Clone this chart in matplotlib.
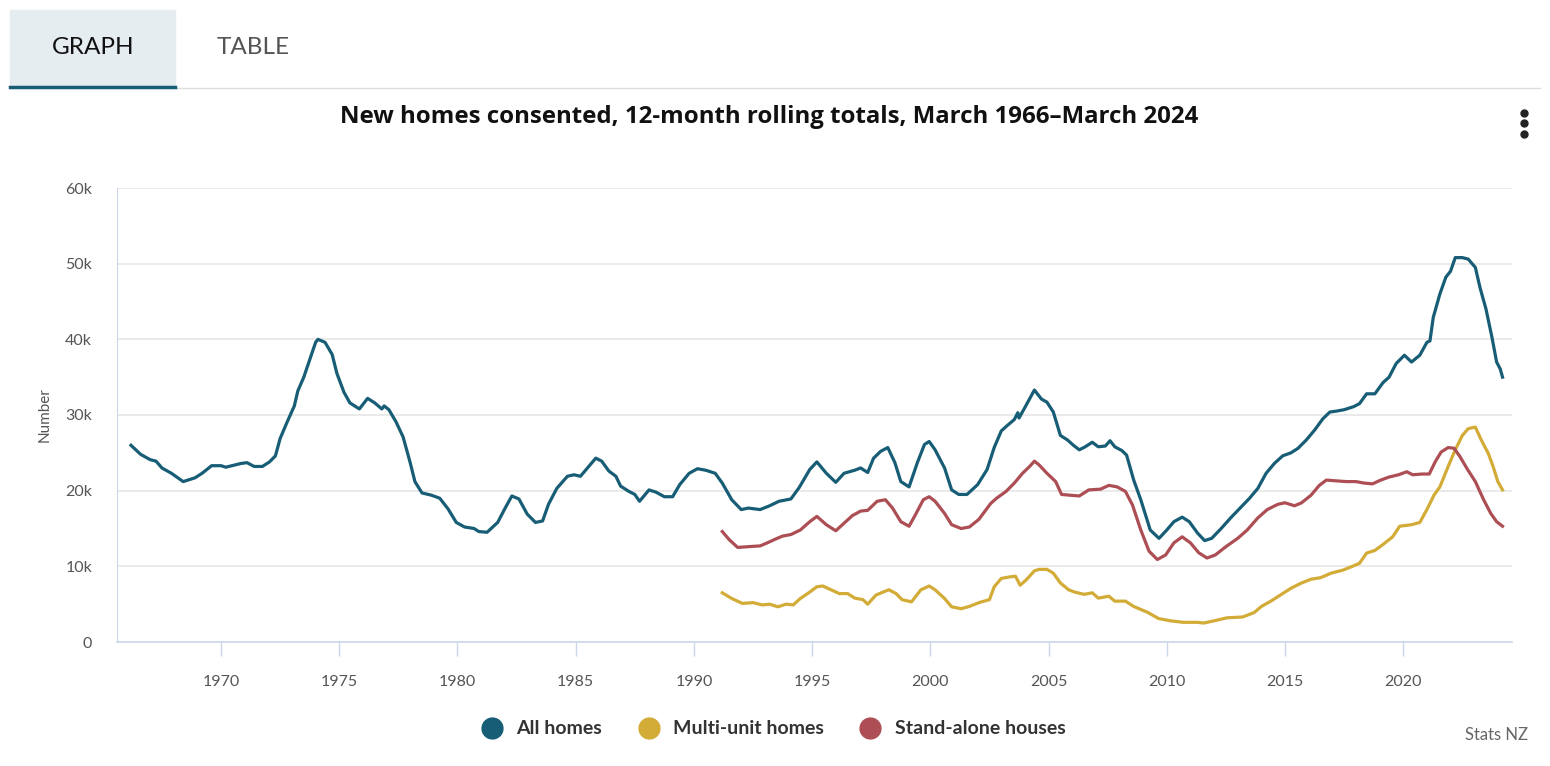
import matplotlib.pyplot as plt
from matplotlib.lines import Line2D
from matplotlib.patches import Rectangle

plt.rcParams['font.family'] = ['Lato', 'DejaVu Sans']

# All homes: (year, thousands)
all_years = [1966.19, 1966.6, 1967.0, 1967.25, 1967.5, 1967.9, 1968.4, 1968.9, 1969.2, 1969.6,
             1970.0, 1970.2, 1970.85, 1971.1, 1971.4, 1971.75, 1972.05, 1972.3, 1972.5, 1972.8,
             1973.1, 1973.25, 1973.5, 1973.75, 1974.0, 1974.1, 1974.4, 1974.7, 1974.9, 1975.2,
             1975.45, 1975.85, 1976.2, 1976.5, 1976.8, 1976.9, 1977.1, 1977.4, 1977.7, 1978.0,
             1978.2, 1978.5, 1978.9, 1979.25, 1979.6, 1979.95, 1980.3, 1980.7, 1980.9, 1981.25,
             1981.7, 1982.0, 1982.3, 1982.6, 1982.95, 1983.3, 1983.6, 1983.85, 1984.2, 1984.65,
             1984.93, 1985.2, 1985.5, 1985.85, 1986.1, 1986.4, 1986.7, 1986.9, 1987.25, 1987.5,
             1987.7, 1988.1, 1988.4, 1988.75, 1989.1, 1989.4, 1989.8, 1990.15, 1990.5, 1990.9,
             1991.2, 1991.6, 1992.0, 1992.3, 1992.8, 1993.2, 1993.6, 1994.1, 1994.45, 1994.9,
             1995.2, 1995.6, 1996.0, 1996.35, 1996.8, 1997.05, 1997.35, 1997.6, 1997.9, 1998.2,
             1998.5, 1998.75, 1999.1, 1999.45, 1999.75, 1999.95, 2000.2, 2000.6, 2000.9, 2001.2,
             2001.55, 2002.0, 2002.4, 2002.7, 2003.0, 2003.25, 2003.55, 2003.7, 2003.75, 2004.0,
             2004.4, 2004.7, 2004.93, 2005.2, 2005.5, 2005.8, 2006.05, 2006.3, 2006.55, 2006.85,
             2007.1, 2007.4, 2007.6, 2007.8, 2008.1, 2008.3, 2008.6, 2008.9, 2009.1, 2009.3,
             2009.67, 2010.0, 2010.3, 2010.65, 2010.95, 2011.3, 2011.6, 2011.9, 2012.3, 2012.7,
             2013.1, 2013.5, 2013.85, 2014.2, 2014.55, 2014.9, 2015.25, 2015.55, 2015.9, 2016.25,
             2016.6, 2016.9, 2017.15, 2017.5, 2017.9, 2018.15, 2018.45, 2018.8, 2019.15, 2019.4,
             2019.7, 2020.05, 2020.35, 2020.7, 2021.0, 2021.13, 2021.27, 2021.55, 2021.8, 2022.0,
             2022.2, 2022.5, 2022.75, 2023.05, 2023.25, 2023.5, 2023.75, 2023.95, 2024.1, 2024.2]
all_homes = [26.0, 24.8, 24.1, 23.9, 23.0, 22.3, 21.2, 21.7, 22.3, 23.3,
             23.3, 23.1, 23.6, 23.7, 23.2, 23.2, 23.8, 24.6, 26.9, 29.1,
             31.2, 33.2, 35.0, 37.3, 39.6, 40.0, 39.6, 38.0, 35.5, 33.0,
             31.6, 30.8, 32.2, 31.6, 30.8, 31.2, 30.7, 29.1, 27.1, 23.7,
             21.2, 19.7, 19.4, 19.0, 17.6, 15.8, 15.2, 15.0, 14.6, 14.5,
             15.8, 17.6, 19.3, 18.9, 16.9, 15.8, 16.0, 18.2, 20.3, 21.9,
             22.1, 21.9, 23.0, 24.3, 23.9, 22.6, 21.9, 20.6, 19.9, 19.5,
             18.6, 20.1, 19.8, 19.2, 19.2, 20.8, 22.3, 22.9, 22.7, 22.3,
             21.0, 18.8, 17.5, 17.7, 17.5, 18.0, 18.6, 18.9, 20.4, 22.8,
             23.8, 22.3, 21.1, 22.3, 22.7, 23.0, 22.4, 24.3, 25.2, 25.7,
             23.7, 21.2, 20.5, 23.7, 26.1, 26.5, 25.4, 23.0, 20.1, 19.5,
             19.5, 20.8, 22.8, 25.7, 27.9, 28.6, 29.4, 30.3, 29.6, 31.0,
             33.3, 32.1, 31.7, 30.4, 27.3, 26.7, 26.0, 25.4, 25.8, 26.4,
             25.8, 25.9, 26.6, 25.8, 25.3, 24.7, 21.4, 18.8, 16.8, 14.8,
             13.7, 14.8, 15.9, 16.5, 15.9, 14.4, 13.4, 13.7, 15.0, 16.4,
             17.7, 19.0, 20.3, 22.3, 23.6, 24.6, 25.0, 25.6, 26.7, 28.0,
             29.5, 30.4, 30.5, 30.7, 31.1, 31.5, 32.8, 32.8, 34.3, 35.0,
             36.8, 37.9, 37.0, 37.9, 39.6, 39.8, 42.9, 46.0, 48.2, 49.0,
             50.8, 50.8, 50.6, 49.5, 46.8, 44.0, 40.3, 37.0, 36.1, 35.0]

# Multi-unit homes
multi_years = [1991.2, 1991.6, 1992.05, 1992.5, 1992.9, 1993.2, 1993.55, 1993.9, 1994.2, 1994.5,
               1994.9, 1995.2, 1995.45, 1995.8, 1996.15, 1996.5, 1996.8, 1997.15, 1997.35, 1997.7,
               1998.0, 1998.25, 1998.55, 1998.8, 1999.2, 1999.6, 1999.95, 2000.2, 2000.6, 2000.9,
               2001.3, 2001.65, 2002.05, 2002.5, 2002.7, 2003.0, 2003.35, 2003.6, 2003.8, 2004.05,
               2004.4, 2004.6, 2004.93, 2005.2, 2005.5, 2005.85, 2006.1, 2006.5, 2006.85, 2007.1,
               2007.55, 2007.8, 2008.25, 2008.6, 2009.2, 2009.65, 2010.15, 2010.7, 2011.3, 2011.55,
               2012.0, 2012.55, 2013.2, 2013.7, 2014.0, 2014.4, 2014.85, 2015.25, 2015.7, 2016.1,
               2016.5, 2016.95, 2017.45, 2017.85, 2018.15, 2018.45, 2018.8, 2019.15, 2019.55, 2019.85,
               2020.35, 2020.7, 2021.0, 2021.3, 2021.55, 2021.9, 2022.2, 2022.5, 2022.75, 2023.05,
               2023.3, 2023.6, 2023.8, 2024.0, 2024.2]
multi_unit = [6.5, 5.75, 5.1, 5.2, 4.9, 5.0, 4.65, 5.0, 4.9, 5.75,
              6.6, 7.3, 7.4, 6.9, 6.4, 6.4, 5.8, 5.6, 5.0, 6.2,
              6.6, 6.9, 6.4, 5.6, 5.3, 6.9, 7.4, 6.9, 5.75, 4.65,
              4.4, 4.7, 5.2, 5.6, 7.3, 8.4, 8.6, 8.7, 7.5, 8.2,
              9.4, 9.6, 9.6, 9.1, 7.8, 6.9, 6.6, 6.3, 6.5, 5.8,
              6.05, 5.4, 5.4, 4.7, 3.9, 3.1, 2.8, 2.6, 2.6, 2.5,
              2.8, 3.2, 3.3, 3.9, 4.7, 5.4, 6.3, 7.1, 7.8, 8.3,
              8.5, 9.1, 9.5, 10.0, 10.4, 11.75, 12.1, 12.9, 13.9, 15.3,
              15.5, 15.8, 17.5, 19.4, 20.5, 23.2, 25.4, 27.3, 28.2, 28.4,
              26.7, 24.9, 23.2, 21.2, 20.1]

# Stand-alone houses
stand_years = [1991.2, 1991.5, 1991.85, 1992.3, 1992.8, 1993.1, 1993.45, 1993.75, 1994.1, 1994.5,
               1994.9, 1995.2, 1995.6, 1996.0, 1996.35, 1996.7, 1997.05, 1997.35, 1997.75, 1998.1,
               1998.4, 1998.75, 1999.1, 1999.4, 1999.7, 1999.95, 2000.2, 2000.6, 2000.9, 2001.3,
               2001.65, 2002.05, 2002.55, 2002.8, 2003.2, 2003.55, 2003.9, 2004.2, 2004.4, 2004.6,
               2004.93, 2005.3, 2005.55, 2005.9, 2006.3, 2006.7, 2007.2, 2007.55, 2007.9, 2008.25,
               2008.55, 2008.9, 2009.25, 2009.6, 2009.95, 2010.3, 2010.65, 2011.0, 2011.35, 2011.7,
               2012.05, 2012.5, 2013.0, 2013.4, 2013.85, 2014.25, 2014.7, 2015.0, 2015.4, 2015.7,
               2016.1, 2016.45, 2016.75, 2017.15, 2017.6, 2018.0, 2018.35, 2018.7, 2019.05, 2019.4,
               2019.8, 2020.15, 2020.4, 2020.8, 2021.1, 2021.35, 2021.6, 2021.9, 2022.15, 2022.4,
               2022.7, 2023.05, 2023.4, 2023.7, 2023.95, 2024.2]
stand_alone = [14.6, 13.5, 12.5, 12.6, 12.7, 13.1, 13.6, 14.0, 14.2, 14.8,
               15.9, 16.6, 15.5, 14.7, 15.7, 16.7, 17.3, 17.4, 18.6, 18.8,
               17.7, 15.9, 15.3, 17.0, 18.8, 19.2, 18.6, 17.0, 15.5, 15.0,
               15.2, 16.2, 18.3, 19.0, 19.9, 21.0, 22.3, 23.2, 23.9, 23.4,
               22.3, 21.2, 19.5, 19.4, 19.3, 20.1, 20.2, 20.7, 20.5, 19.9,
               18.1, 14.8, 12.0, 10.9, 11.5, 13.1, 13.9, 13.1, 11.8, 11.1,
               11.5, 12.6, 13.7, 14.8, 16.4, 17.5, 18.2, 18.4, 18.0, 18.4,
               19.4, 20.7, 21.4, 21.3, 21.2, 21.2, 21.0, 20.9, 21.4, 21.8,
               22.1, 22.5, 22.1, 22.2, 22.2, 23.8, 25.1, 25.7, 25.6, 24.5,
               22.9, 21.2, 18.8, 17.0, 15.9, 15.3]

x_ticks = [1970, 1975, 1980, 1985, 1990, 1995, 2000, 2005, 2010, 2015, 2020]
y_ticks = [0, 10, 20, 30, 40, 50, 60]
y_labels = ['0', '10k', '20k', '30k', '40k', '50k', '60k']

c_all = '#175d75'
c_multi = '#d3ab37'
c_stand = '#ad4e55'

fig = plt.figure(figsize=(15.5, 7.66), dpi=100)
ax = fig.add_axes([117 / 1550, 1 - 642 / 766, (1512 - 117) / 1550, (642 - 188) / 766])

ax.plot(all_years, all_homes, color=c_all, lw=2.3, solid_joinstyle='round')
ax.plot(multi_years, multi_unit, color=c_multi, lw=2.3, solid_joinstyle='round')
ax.plot(stand_years, stand_alone, color=c_stand, lw=2.3, solid_joinstyle='round')

ax.set_xlim(1965.6, 2024.6)
ax.set_ylim(0, 60)
ax.set_yticks(y_ticks)
ax.set_yticklabels(y_labels)
ax.set_xticks(x_ticks)
ax.grid(axis='y', color='#e6e6e6', lw=1.2)
ax.set_axisbelow(True)
for s in ['top', 'right']:
    ax.spines[s].set_visible(False)
ax.spines['left'].set_color('#ccd6eb')
ax.spines['bottom'].set_color('#ccd6eb')
ax.spines['bottom'].set_linewidth(1.2)
ax.tick_params(axis='y', length=0, pad=18, labelsize=11.5, labelcolor='#555555')
ax.tick_params(axis='x', length=10, width=1, color='#ccd6eb', pad=14, labelsize=11.5, labelcolor='#555555')
ax.set_ylabel('Number', fontsize=11, color='#555555', labelpad=10)

# tabs
fig.patches.append(Rectangle((10 / 1550, 1 - 86 / 766), 165 / 1550, 76 / 766,
                             transform=fig.transFigure, color='#e6edf0', zorder=0))
fig.add_artist(Line2D([175 / 1550, 1540 / 1550], [1 - 88 / 766] * 2, color='#dddddd', lw=1))
fig.add_artist(Line2D([10 / 1550, 175 / 1550], [1 - 86.5 / 766] * 2, color='#175d75', lw=2.5))
fig.text(93 / 1550, 1 - 48 / 766, 'GRAPH', ha='center', va='center', fontsize=17.5, color='#111111')
fig.text(253 / 1550, 1 - 48 / 766, 'TABLE', ha='center', va='center', fontsize=17.5, color='#555555')

fig.text(769 / 1550, 1 - 117 / 766, 'New homes consented, 12-month rolling totals, March 1966\u2013March 2024',
         ha='center', va='center', fontsize=17.3, fontweight='bold', color='#111111',
         family=['Open Sans', 'DejaVu Sans'])

# menu dots
for yy in [113, 123, 134]:
    fig.add_artist(Line2D([1524 / 1550], [1 - yy / 766], marker='o', markersize=5,
                          color='#222222', linestyle='none'))

handles = [Line2D([], [], marker='o', linestyle='none', markersize=15, color=c)
           for c in [c_all, c_multi, c_stand]]
fig.legend(handles, ['All homes', 'Multi-unit homes', 'Stand-alone houses'],
           loc='center', bbox_to_anchor=(769 / 1550, 1 - 729 / 766), ncol=3, frameon=False,
           prop={'weight': 'bold', 'size': 14}, handletextpad=0.25, columnspacing=1.4,
           labelcolor='#333333')

fig.text(1528 / 1550, 1 - 735 / 766, 'Stats NZ', ha='right', va='center', fontsize=12, color='#666666')

fig.savefig('out.png', dpi=100)
